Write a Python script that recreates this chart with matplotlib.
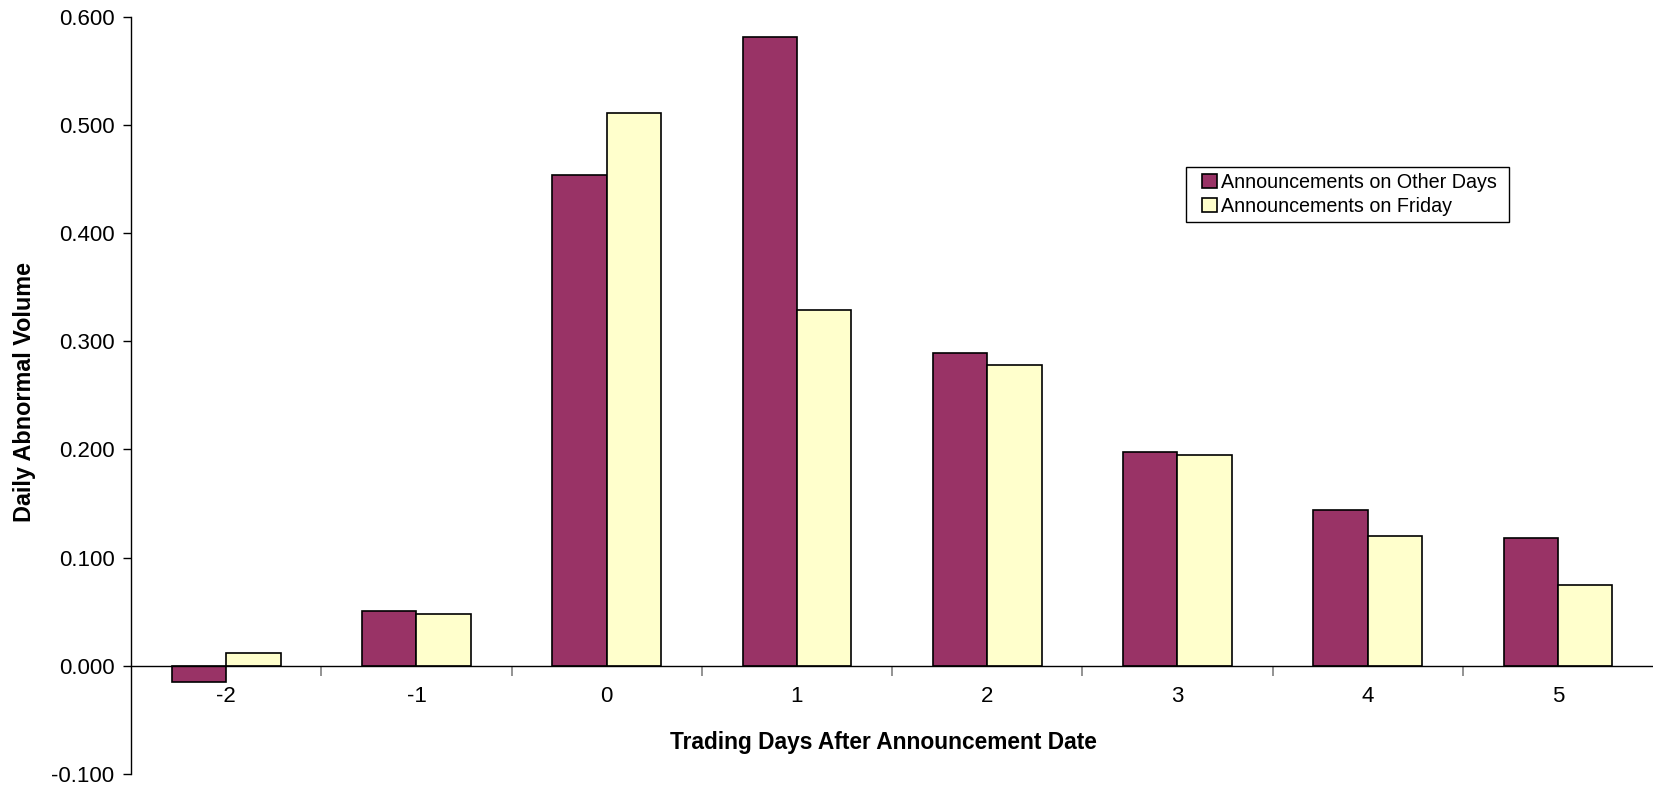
import numpy as np
import matplotlib.pyplot as plt
from matplotlib.patches import Rectangle

plt.rcParams['font.family'] = ['Liberation Sans', 'DejaVu Sans']

# daily abnormal volume around the announcement date
days = ['-2', '-1', '0', '1', '2', '3', '4', '5']
other_days = [-0.015, 0.051, 0.454, 0.581, 0.289, 0.198, 0.144, 0.118]
friday = [0.012, 0.048, 0.511, 0.329, 0.278, 0.195, 0.120, 0.075]

fig = plt.figure(figsize=(16.53, 7.87), dpi=100)
ax = fig.add_axes([0.0793, 0.0165, 0.9207, 0.9623])

x = np.arange(len(days))
w = 1 / 3.5
ax.bar(x - w / 2, other_days, w, color='#993366', edgecolor='black', linewidth=1.2,
       label='Announcements on Other Days')
ax.bar(x + w / 2, friday, w, color='#FFFFCC', edgecolor='black', linewidth=1.2,
       label='Announcements on Friday')

ax.set_xlim(-0.5, len(days) - 0.5)
ax.set_ylim(-0.1, 0.6)
yt = np.arange(-0.1, 0.61, 0.1)
ax.set_yticks(yt)
ax.set_yticklabels(['%.3f' % v for v in yt])

ax.spines['top'].set_visible(False)
ax.spines['right'].set_visible(False)
ax.spines['bottom'].set_position(('data', 0))
ax.spines['left'].set_linewidth(1)
ax.spines['bottom'].set_linewidth(1)

# category labels at centres, tick marks between categories
ax.set_xticks(x)
ax.set_xticklabels(days)
ax.set_xticks(np.arange(0.5, len(days) - 0.5, 1), minor=True)
ax.tick_params(axis='x', which='major', length=0, pad=14.5, labelsize=16)
ax.tick_params(axis='x', which='minor', length=7, width=1.2, color='#808080', direction='out')
ax.tick_params(axis='y', length=6, width=1, pad=6, labelsize=16)

fig.text(883 / 1653, 1 - 743 / 787, 'Trading Days After Announcement Date',
         ha='center', va='center', fontsize=16.4, fontweight='bold')
fig.text(25 / 1653, 1 - 392 / 787, 'Daily Abnormal Volume', rotation=90,
         ha='center', va='center', fontsize=16.8, fontweight='bold')

leg = ax.legend(loc='upper left', bbox_to_anchor=(0.6997, 0.8015), borderaxespad=0,
                frameon=False, fontsize=14.2, handlelength=0.75,
                handleheight=0.75, handletextpad=0.2, labelspacing=0.25, borderpad=0.3)
for h in leg.legend_handles:
    h.set_linewidth(1.2)

# legend box with wider side padding than matplotlib gives
fig.canvas.draw()
bb = leg.get_window_extent()
frame = Rectangle((bb.x0 - 10, bb.y0), bb.width + 17, bb.height, transform=None,
                  facecolor='none', edgecolor='black', linewidth=1, zorder=5)
fig.patches.append(frame)

fig.savefig('out.png', dpi=100)
